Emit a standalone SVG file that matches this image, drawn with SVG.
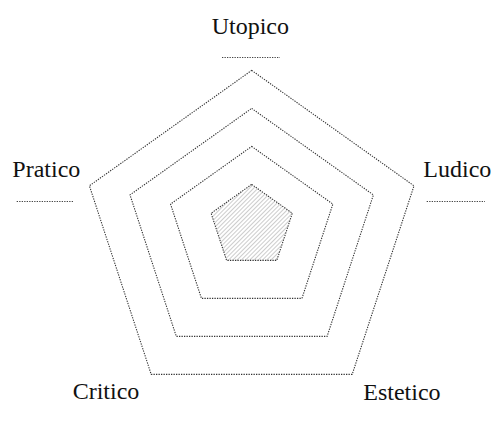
<svg xmlns="http://www.w3.org/2000/svg" width="492" height="421" viewBox="0 0 492 421">
  <style>
    .ring { fill: none; stroke: #333; stroke-width: 1.1; stroke-dasharray: 1.3 1.2; }
    .tick { stroke: #444; stroke-width: 1.1; stroke-dasharray: 1.3 1.2; }
  </style>
  <defs>
    <pattern id="hatch" patternUnits="userSpaceOnUse" width="3" height="3" patternTransform="rotate(45)">
      <rect width="3" height="3" fill="#fff"/>
      <line x1="0" y1="0" x2="0" y2="3" stroke="#999" stroke-width="1"/>
    </pattern>
  </defs>
  <rect width="492" height="421" fill="#fff"/>
  <g id="ring-outer">
    <polygon class="ring" points="251.7,70.4 414,185.8 352.2,374.4 151.2,374.4 89.4,185.8"/>
  </g>
  <g id="ring-2">
    <polygon class="ring" points="251.7,108.4 373.4,194.9 327.1,336.4 176.3,336.4 130,194.9"/>
  </g>
  <g id="ring-3">
    <polygon class="ring" points="251.7,146.4 332.85,204.1 301.95,298.4 201.45,298.4 170.55,204.1"/>
  </g>
  <g id="ring-inner">
    <polygon class="ring" style="fill:url(#hatch)" points="251.7,184.4 292.3,213.25 276.8,260.4 226.6,260.4 211.1,213.25"/>
  </g>
  <g font-family="Liberation Serif" font-size="24" fill="#111">
    <g id="label-utopico">
      <text x="250.3" y="34" text-anchor="middle">Utopico</text>
      <line class="tick" x1="222" y1="57.5" x2="280" y2="57.5"/>
    </g>
    <g id="label-pratico">
      <text x="12.3" y="176.7">Pratico</text>
      <line class="tick" x1="16.7" y1="201.5" x2="74" y2="201.5"/>
    </g>
    <g id="label-ludico">
      <text x="423.3" y="176.7">Ludico</text>
      <line class="tick" x1="426.7" y1="201.5" x2="485" y2="201.5"/>
    </g>
    <g id="label-critico">
      <text x="72.7" y="399.3">Critico</text>
    </g>
    <g id="label-estetico">
      <text x="363.3" y="400">Estetico</text>
    </g>
  </g>
</svg>
